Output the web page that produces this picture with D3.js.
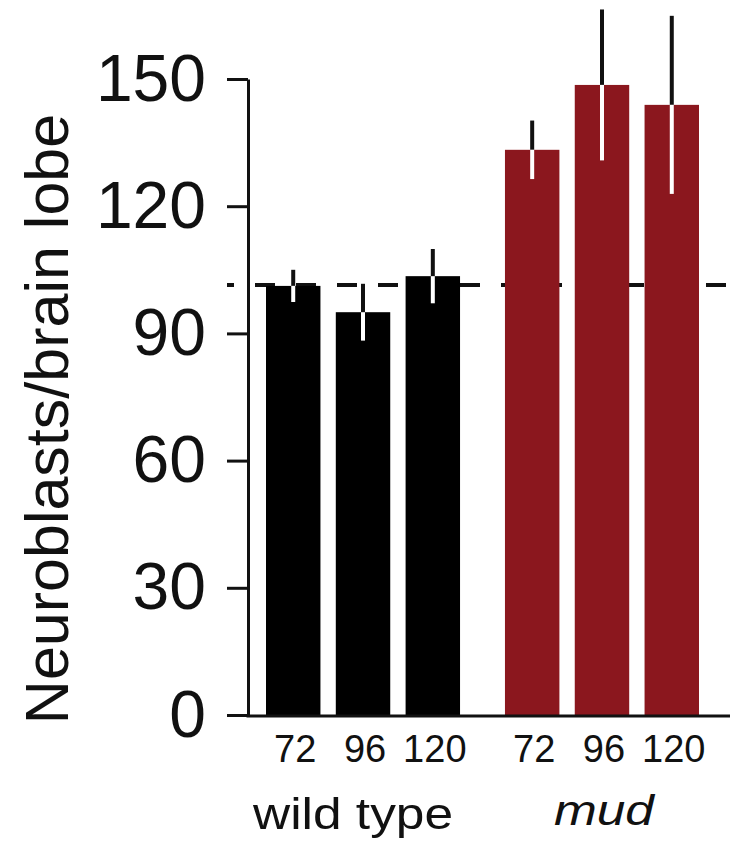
<!DOCTYPE html>
<html>
<head>
<meta charset="utf-8">
<script src="https://cdn.jsdelivr.net/npm/d3@7"></script>
<style>
  html, body { margin: 0; padding: 0; background: #fff; }
  svg { display: block; }
  text { font-family: "Liberation Sans", Arial, Helvetica, sans-serif; fill: #111; }
</style>
</head>
<body>
<svg id="chart" width="738" height="848"></svg>
<script>
// Neuroblast counts per brain lobe at 72/96/120 h, wild type vs mud
const genotypes = ["wild type", "mud"];
const hours = ["72", "96", "120"];
const wildTypeMeans = [101.2, 95.0, 103.5];
const wildTypeErrors = [3.8, 6.7, 6.4];
const mudMeans = [133.3, 148.6, 143.9];
const mudErrors = [6.9, 17.8, 21.0];
const yTicks = [0, 30, 60, 90, 120, 150];
const referenceLevel = 101.4;
const barColors = { "wild type": "#000000", "mud": "#8b171e" };

const rows = [];
genotypes.forEach((g, gi) => {
  const means = gi === 0 ? wildTypeMeans : mudMeans;
  const errs = gi === 0 ? wildTypeErrors : mudErrors;
  hours.forEach((h, hi) => rows.push({ genotype: g, hour: h, mean: means[hi], err: errs[hi] }));
});

const svg = d3.select("#chart");
const axisX = 248;

const y = d3.scaleLinear().domain([0, 150]).range([715, 79]);
const xGroup = d3.scaleBand().domain(genotypes).range([266, 699]).paddingInner(0.188);
const xHour = d3.scaleBand().domain(hours).range([0, xGroup.bandwidth()]).paddingInner(0.22);
const cx = d => xGroup(d.genotype) + xHour(d.hour) + xHour.bandwidth() / 2;

// dashed reference level, behind the bars
svg.append("line")
  .attr("x1", 227).attr("x2", 727)
  .attr("y1", y(referenceLevel)).attr("y2", y(referenceLevel))
  .attr("stroke", "#111").attr("stroke-width", 4)
  .attr("stroke-dasharray", "20 21").attr("stroke-dashoffset", 13);

// bars
svg.append("g").selectAll("rect").data(rows).join("rect")
  .attr("x", d => xGroup(d.genotype) + xHour(d.hour))
  .attr("width", xHour.bandwidth())
  .attr("y", d => y(d.mean))
  .attr("height", d => y(0) - y(d.mean))
  .attr("fill", d => barColors[d.genotype]);

// error bars: black above the bar top, white inside the bar
const eb = svg.append("g");
eb.selectAll("line.up").data(rows).join("line").attr("class", "up")
  .attr("x1", cx).attr("x2", cx)
  .attr("y1", d => y(d.mean)).attr("y2", d => y(d.mean + d.err))
  .attr("stroke", "#111").attr("stroke-width", 4);
eb.selectAll("line.down").data(rows).join("line").attr("class", "down")
  .attr("x1", cx).attr("x2", cx)
  .attr("y1", d => y(d.mean)).attr("y2", d => y(d.mean - d.err))
  .attr("stroke", "#fff").attr("stroke-width", 4);

// y axis
const yAxis = svg.append("g")
  .attr("transform", `translate(${axisX},0)`)
  .call(d3.axisLeft(y).tickValues(yTicks).tickSize(21).tickSizeOuter(0).tickPadding(21));
yAxis.select(".domain").attr("stroke", "#111").attr("stroke-width", 3);
yAxis.selectAll(".tick line").attr("stroke", "#111").attr("stroke-width", 3);
yAxis.selectAll(".tick text")
  .style("font-family", '"Liberation Sans", Arial, sans-serif')
  .attr("font-size", 66).attr("fill", "#111");

// x axis baseline
svg.append("line")
  .attr("x1", axisX - 1.5).attr("x2", 730)
  .attr("y1", y(0) + 1).attr("y2", y(0) + 1)
  .attr("stroke", "#111").attr("stroke-width", 3);

// hour labels
svg.append("g").selectAll("text").data(rows).join("text")
  .attr("x", d => cx(d) + 2).attr("y", 762)
  .attr("text-anchor", "middle").attr("font-size", 38)
  .text(d => d.hour);

// genotype labels
svg.append("text")
  .attr("x", xGroup("wild type") + xGroup.bandwidth() / 2 - 10).attr("y", 829)
  .attr("text-anchor", "middle").attr("font-size", 45)
  .attr("textLength", 200).attr("lengthAdjust", "spacingAndGlyphs")
  .text("wild type");
svg.append("text")
  .attr("x", xGroup("mud") + xGroup.bandwidth() / 2 + 2).attr("y", 825)
  .attr("text-anchor", "middle").attr("font-size", 43).attr("font-style", "italic")
  .attr("textLength", 100).attr("lengthAdjust", "spacingAndGlyphs")
  .text("mud");

// y axis title
svg.append("text")
  .attr("transform", "translate(68,419) rotate(-90)")
  .attr("text-anchor", "middle").attr("font-size", 61)
  .text("Neuroblasts/brain lobe");
</script>
</body>
</html>
